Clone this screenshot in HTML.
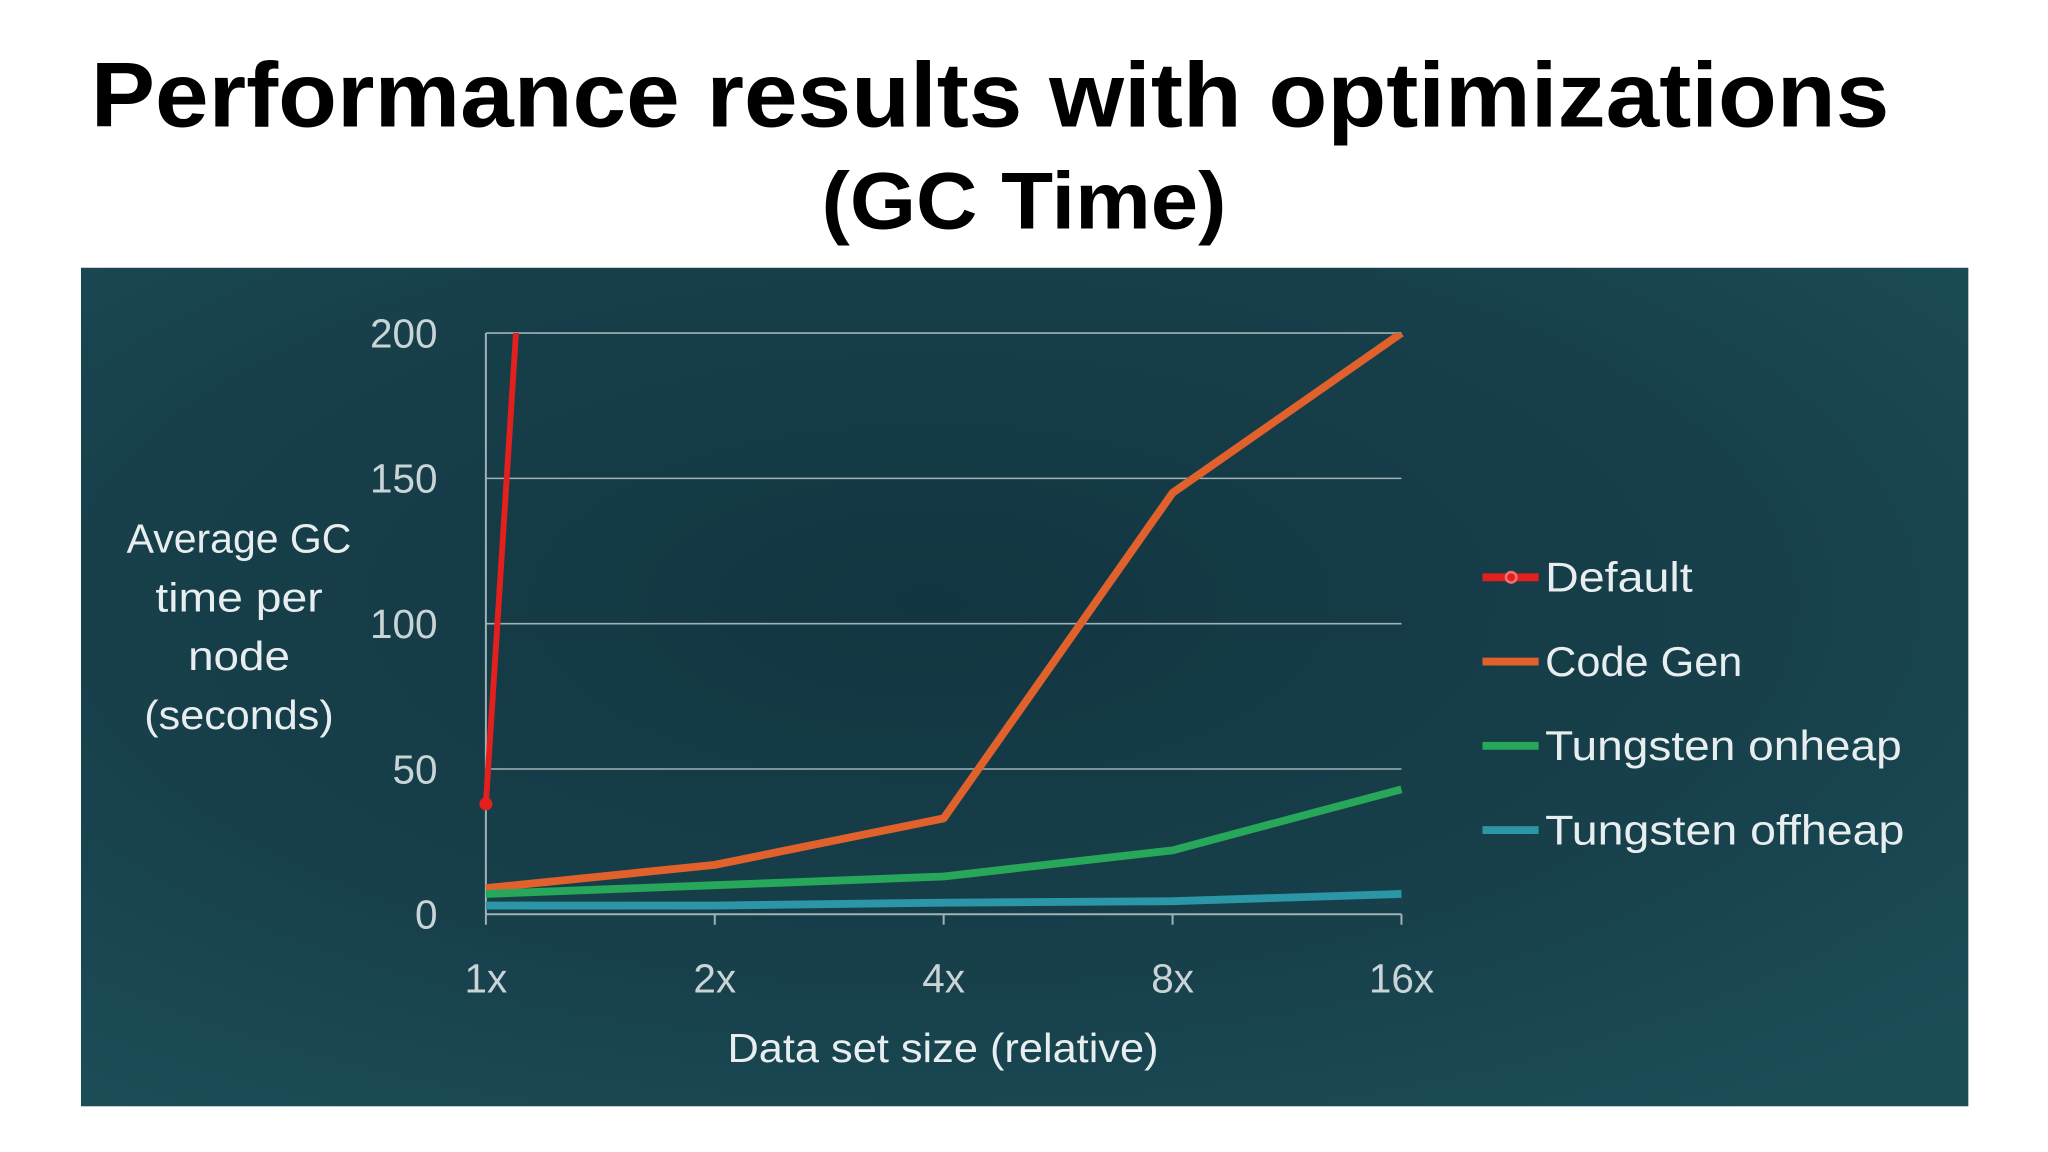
<!DOCTYPE html>
<html><head><meta charset="utf-8"><style>
html,body{margin:0;padding:0;background:#fff;width:2048px;height:1152px;overflow:hidden}
svg{display:block}
text{font-family:"Liberation Sans",sans-serif}
</style></head><body>
<svg width="2048" height="1152" viewBox="0 0 1568 882" preserveAspectRatio="none">
<defs>
<radialGradient id="bg" cx="0.45" cy="0.4" r="0.75">
<stop offset="0" stop-color="#123641"/><stop offset="0.6" stop-color="#17404b"/><stop offset="1" stop-color="#1c4e58"/>
</radialGradient>
<clipPath id="plotclip"><rect x="300" y="255" width="800" height="465"/></clipPath>
</defs>
<text x="758" y="97" text-anchor="middle" font-size="70" font-weight="bold" textLength="1377" lengthAdjust="spacingAndGlyphs">Performance results with optimizations</text>
<text x="784" y="175" text-anchor="middle" font-size="62" font-weight="bold" textLength="310" lengthAdjust="spacingAndGlyphs">(GC Time)</text>
<rect x="62" y="205" width="1445" height="642" fill="url(#bg)"/>
<g id="grid"></g>
<g id="axes"></g>
<g id="series" clip-path="url(#plotclip)"></g>
<g fill="#e8eef0" font-size="31" text-anchor="middle">
<text x="183" y="423" textLength="172" lengthAdjust="spacingAndGlyphs">Average GC</text>
<text x="183" y="468" textLength="128" lengthAdjust="spacingAndGlyphs">time per</text>
<text x="183" y="513" textLength="78" lengthAdjust="spacingAndGlyphs">node</text>
<text x="183" y="558" textLength="145" lengthAdjust="spacingAndGlyphs">(seconds)</text>
</g>
<text x="722" y="813" fill="#e8eef0" font-size="31" text-anchor="middle" textLength="330" lengthAdjust="spacingAndGlyphs">Data set size (relative)</text>
<g id="legend"></g>
</svg>
<script>
const categories = ["1x","2x","4x","8x","16x"];
const yTicks = [0,50,100,150,200];
const seriesNames = ["Default","Code Gen","Tungsten onheap","Tungsten offheap"];
const seriesColors = ["#e3201d","#e0612b","#27a75a","#2b96a6"];
const defaultVals = [38,1270];
const codeGenVals = [9,17,33,145,200];
const onheapVals = [7,10,13,22,43];
const offheapVals = [3,3,4,4.5,7];
const allSeries = [defaultVals,codeGenVals,onheapVals,offheapVals];
const NS="http://www.w3.org/2000/svg";
const x0=372,x1=1073,yb=700,yt=255,ymax=200;
function xs(i){return x0+i*(x1-x0)/(categories.length-1);}
function ys(v){return yb-v*(yb-yt)/ymax;}
function mk(tag,attrs,parent){const e=document.createElementNS(NS,tag);for(const k in attrs)e.setAttribute(k,attrs[k]);parent.appendChild(e);return e;}
const grid=document.getElementById('grid'),axes=document.getElementById('axes'),ser=document.getElementById('series'),leg=document.getElementById('legend');
yTicks.forEach(t=>{
  if(t>0){const l=mk('line',{x1:x0,x2:x1,y1:ys(t),y2:ys(t),stroke:'#9fb3b8','stroke-width':1.2},grid);
  
  }
  const tx=mk('text',{x:335,y:ys(t)+11,fill:'#c9d4d7','font-size':31,'text-anchor':'end'},axes);
  tx.textContent=t;
  
  
});
const xa=mk('line',{x1:x0,x2:x1,y1:yb,y2:yb,stroke:'#9fb3b8','stroke-width':1.5},axes);


const ya=mk('line',{x1:x0,x2:x0,y1:yt,y2:yb,stroke:'#9fb3b8','stroke-width':1.5},axes);


categories.forEach((c,i)=>{
  const tk=mk('line',{x1:xs(i),x2:xs(i),y1:yb,y2:yb+8,stroke:'#9fb3b8','stroke-width':1.5},axes);
  
  
  const tx=mk('text',{x:xs(i),y:760,fill:'#c9d4d7','font-size':31,'text-anchor':'middle'},axes);
  tx.textContent=c;
  
  
});
allSeries.forEach((vals,s)=>{
  const pts=vals.map((v,i)=>xs(i)+','+ys(v)).join(' ');
  const pl=mk('polyline',{points:pts,fill:'none',stroke:seriesColors[s],'stroke-width':s===0?4.5:6,'stroke-linejoin':'round'},ser);
  
  
});
const dot=mk('circle',{cx:xs(0),cy:ys(defaultVals[0]),r:5,fill:seriesColors[0]},ser);


seriesNames.forEach((n,s)=>{
  const y=442+s*64.5;
  const g=mk('g',{},leg);
  
  
  mk('line',{x1:1135,x2:1178,y1:y,y2:y,stroke:seriesColors[s],'stroke-width':6},g);
  if(s===0)mk('circle',{cx:1157,cy:y,r:4,fill:'none',stroke:'#f07070','stroke-width':2},g);
  const t=mk('text',{x:1183,y:y+11,fill:'#e8eef0','font-size':32},g);
  t.textContent=n;
  const w=[113,151,273,275][s];
  t.setAttribute('textLength',w);
  t.setAttribute('lengthAdjust','spacingAndGlyphs');
});
</script>
</body></html>
